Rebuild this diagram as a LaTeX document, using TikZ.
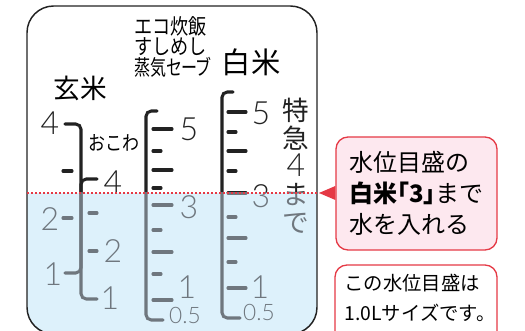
\documentclass[tikz,border=0pt]{standalone}
\usepackage{fontspec}
\usetikzlibrary{positioning}
\newfontfamily\jpfont{Noto Sans CJK JP}
\newfontfamily\jppalt[RawFeature=+palt]{Noto Sans CJK JP}
\newfontfamily\jpnarrow[FakeStretch=0.85]{Noto Sans CJK JP}
\newfontfamily\jpslim[FakeStretch=0.75,RawFeature=+palt]{Noto Sans CJK JP}
\newfontfamily\numfont{Lato Light}
\newcommand{\fsz}[2]{\fontsize{#1}{#2}\selectfont}
\definecolor{waterblue}{HTML}{DDF1FB}
\definecolor{notepink}{HTML}{FDE8EF}
\definecolor{notered}{HTML}{E53945}
\definecolor{scalegray}{HTML}{6F777E}
\definecolor{inkblack}{HTML}{222222}

% the three scales, drawn once above and once below the water line
\newcommand{\ricescale}[1]{%
  \begin{scope}[color=#1]
    % genmai / okowa
    \draw[bar] (65,124) -- (81,124) -- (81,273) -- (65,273);
    \draw[bar] (97,179) -- (81,179) -- (81,299) -- (97,299);
    \draw[tick] (63,171) -- (72,171);
    \draw[tick] (63,218) -- (72,218);
    \draw[tick] (89,213) -- (97,213);
    \draw[tick] (89,251) -- (97,251);
    \node[num] (g4) at (50,123) {4};
    \node[num] (g2) at (50,219) {2};
    \node[num] (g1) at (53,274) {1};
    \node[num] (o4) at (113,182) {4};
    \node[num] (o2) at (113,251) {2};
    \node[num] (o1) at (110,298) {1};
    % eco / sushi / steam
    \draw[bar] (157,111) -- (146,111) -- (146,320) -- (163,320);
    \draw[tick] (153,129) -- (172,129);
    \draw[tick] (153,151) -- (161,151);
    \draw[tick] (153,170) -- (172,170);
    \draw[tick] (153,188) -- (161,188);
    \draw[tick] (153,205) -- (172,205);
    \draw[tick] (153,230) -- (161,230);
    \draw[tick] (153,252) -- (172,252);
    \draw[tick] (153,274) -- (161,274);
    \draw[tick] (153,300) -- (172,300);
    \node[num] (e5) at (189,129) {5};
    \node[num] (e3) at (189,207) {3};
    \node[num] (e1) at (187,287) {1};
    \node[half] (e05) at (185,315) {0.5};
    % hakumai
    \draw[bar] (233,92) -- (222,92) -- (222,318) -- (240,318);
    \draw[tick] (228,112) -- (246,112);
    \draw[tick] (228,132) -- (236,132);
    \draw[tick] (228,151) -- (246,151);
    \draw[tick] (228,171) -- (236,171);
    \draw[tick] (228,193) -- (246,193);
    \draw[tick] (228,217) -- (236,217);
    \draw[tick] (228,238) -- (246,238);
    \draw[tick] (228,262) -- (236,262);
    \draw[tick] (228,288) -- (246,288);
    \node[num] (h5) at (261,113) {5};
    \node[num] (h3) at (261,196) {3};
    \node[num] (h1) at (260,287) {1};
    \node[half] (h05) at (259,312) {0.5};
    \node[font=\jpfont\fsz{20}{21}, align=center, inner sep=0pt] (tokkyu) at (296,166) {特\\急\\{\numfont\fsz{24}{21}4}\\ま\\で};
  \end{scope}}

\begin{document}
\begin{tikzpicture}[x=0.75pt, y=-0.75pt]
  \tikzset{bar/.style={line width=2.3pt, rounded corners=4pt, line cap=round}}
  \tikzset{tick/.style={line width=2.3pt, line cap=round}}
  \tikzset{num/.style={font=\numfont\fsz{24}{24}, inner sep=0pt}}
  \tikzset{half/.style={font=\numfont\fsz{17}{17}, inner sep=0pt}}
  \tikzset{head/.style={inner sep=0pt}}
  \tikzset{notebox/.style={draw=notered, line width=1pt, rounded corners=9pt}}
  \useasboundingbox (0,0) rectangle (525,331);
  %pot and water
  \begin{scope}
    \clip[rounded corners=20pt] (27,6) rectangle (317,334);
    \fill[waterblue] (27,193) rectangle (317,334);
  \end{scope}
  \draw[inkblack, line width=1.1pt, rounded corners=20pt] (27,6) rectangle (317,334);
  %scales
  \begin{scope}
    \clip (0,0) rectangle (525,193);
    \ricescale{inkblack}
  \end{scope}
  \begin{scope}
    \clip (0,193) rectangle (525,331);
    \ricescale{scalegray}
  \end{scope}
  %headings
  \node[head, font=\jpfont\fsz{20}{20}] (genmai) at (80,88) {玄米};
  \node[head, font=\jpnarrow\fsz{15}{15}] (okowa) at (114,143) {おこわ};
  \node[head, font=\jpnarrow\fsz{16}{15.5}, align=left, anchor=north west] (eco) at (134,16) {エコ炊飯\\すしめし\\{\jpslim 蒸気セーブ}};
  \node[head, font=\jpfont\fsz{22}{22}] (hakumai) at (251,62) {白米};
  %notes
  \node[notebox, fill=notepink, minimum width=120.75pt, minimum height=84.75pt,
        align=left, font=\jpfont\fsz{18}{23}, inner sep=0pt] (note) at (416.5,193.5)
        {水位目盛の\\{\bfseries 白米{\jppalt 「3」}}まで\\水を入れる};
  \draw[notebox] (335,265) rectangle (497,345);
  \node[head, font=\jpfont\fsz{14.5}{22.5}, align=left] (sizenote) at (420,298) {この水位目盛は\\1.0Lサイズです。};
  %water level
  \coordinate (lvl) at (27,193);
  \coordinate (tip) at (319,193);
  \draw[notered, line width=1.4pt, dash pattern=on 1.4pt off 1.6pt] (lvl) -- (tip);
  \fill[notered] (tip) -- (note.west |- 0,186) -- (note.west |- 0,200) -- cycle;
\end{tikzpicture}
\end{document}
